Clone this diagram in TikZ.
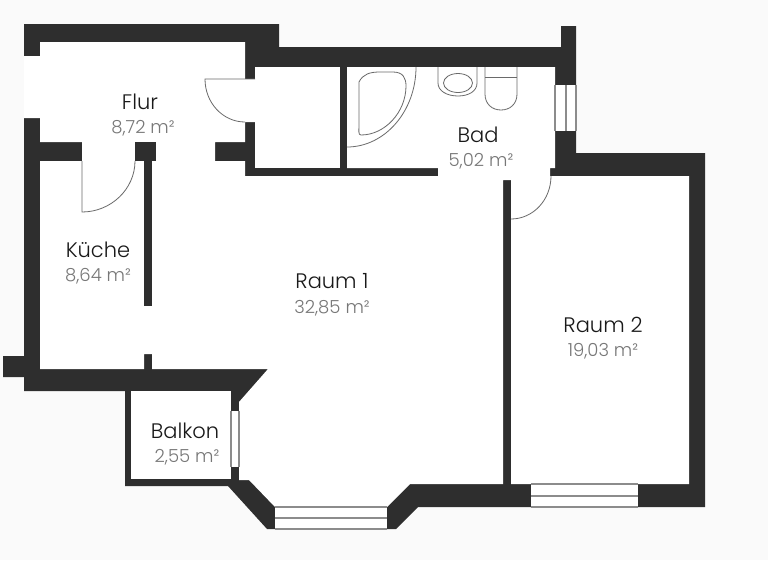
\documentclass[tikz,border=0pt]{standalone}
\usepackage{fontspec}
\setmainfont{Poppins Light}
\usepackage{xcolor}
\usetikzlibrary{positioning}
\definecolor{wallgray}{HTML}{2E2E2E}
\definecolor{paper}{HTML}{FAFAFA}
\definecolor{areagray}{HTML}{777777}
\definecolor{linegray}{HTML}{6A6A6A}
\definecolor{wingray}{HTML}{8C8C8C}

\begin{document}
\begin{tikzpicture}[
  x=1pt, y=-1pt,
  wall/.style={fill=wallgray, draw=none},
  floor/.style={fill=white, draw=none},
  fixture/.style={draw=linegray, line width=0.8pt},
  pane/.style={draw=wingray, line width=1.1pt},
  room/.style={font=\fontsize{21}{24}\selectfont, text=black!90},
  area/.style={font=\fontsize{18}{20}\selectfont, text=areagray}
]
\useasboundingbox (0,0) rectangle (768,560);
\fill[paper] (0,0) rectangle (768,560);

% outer shell
\path[wall] (24,24) -- (279,24) -- (279,47) -- (561,47) -- (561,26) -- (576,26)
  -- (576,153) -- (705,153) -- (705,507) -- (418,507) -- (396,529) -- (267,529)
  -- (228,486) -- (125,486) -- (125,391) -- (24,391) -- (24,377) -- (3,377)
  -- (3,356) -- (24,356) -- cycle;

% open floor
\path[floor] (24,56) -- (40,56) -- (40,42) -- (245,42) -- (245,79) -- (255,79)
  -- (255,122) -- (245,122) -- (245,142) -- (215,142) -- (215,161) -- (245,161)
  -- (245,176) -- (438,176) -- (438,168) -- (347,168) -- (347,67) -- (555,67)
  -- (555,168) -- (550,168) -- (550,176) -- (689,176) -- (689,484) -- (511,484)
  -- (511,180) -- (503,180) -- (503,484) -- (410,484) -- (387,507) -- (275,507)
  -- (249,480) -- (239,480) -- (239,402) -- (268,369) -- (152,369) -- (152,354)
  -- (144,354) -- (144,369) -- (40,369) -- (40,161) -- (82,161) -- (82,142)
  -- (40,142) -- (40,118) -- (24,118) -- cycle;
\path[floor] (255,67) rectangle (340,168);
\path[floor] (131,391) rectangle (231,479);

% kitchen wall
\path[wall] (135,142) rectangle (156,161);
\path[wall] (144,161) rectangle (152,306);

% windows
\path[floor] (275,507) rectangle (387,529);
\draw[pane] (275,507) -- (387,507) (275,518) -- (387,518) (275,529) -- (387,529);
\path[floor] (531,484) rectangle (638,507);
\draw[pane] (531,484) -- (638,484) (531,496) -- (638,496) (531,507) -- (638,507);
\path[floor] (555,85) rectangle (576,131);
\draw[pane] (555,85) -- (555,131) (566,85) -- (566,131) (576,85) -- (576,131);
\path[floor] (231,411) rectangle (239,467);
\draw[pane] (231,411) -- (231,467) (239,411) -- (239,467);

% doors
\draw[fixture] (255,79) -- (205,79) .. controls (205,103) and (223,122) .. (245,122);
\draw[fixture] (82,161) -- (82,212) .. controls (111,212) and (135,189) .. (135,161);
\draw[fixture] (551,176) .. controls (551,200) and (533,219) .. (511,219);

% bath
\draw[fixture] (416,67) .. controls (416,111) and (385,147) .. (347,147);
\draw[fixture] (359,82) .. controls (363,74) and (370,72) .. (380,72)
  -- (393,72) .. controls (403,72) and (406,78) .. (406,86)
  .. controls (406,112) and (385,135) .. (361,135)
  .. controls (358,135) and (359,130) .. (359,125) -- cycle;
\draw[fixture] (438,67) -- (438,83) .. controls (438,91) and (447,96) .. (458,96)
  .. controls (469,96) and (477,91) .. (477,83) -- (477,67);
\draw[fixture] (458,83) ellipse [x radius=14.5, y radius=9.5];
\draw[fixture] (485,67) -- (485,94) .. controls (485,104) and (492,110) .. (501,110)
  .. controls (510,110) and (517,104) .. (517,94) -- (517,67);
\draw[fixture] (485,77) -- (517,77);

% labels
\node[room] (flur) at (140,102) {Flur};
\node[area] (flurarea) at (143,128) {8,72 m²};
\node[room] (kueche) at (98,250) {Küche};
\node[area] (kuechearea) at (98,276) {8,64 m²};
\node[room] (raumeins) at (332,281) {Raum 1};
\node[area] (raumeinsarea) at (332,308) {32,85 m²};
\node[room] (raumzwei) at (603,325) {Raum 2};
\node[area] (raumzweiarea) at (603,351) {19,03 m²};
\node[room] (bad) at (478,135) {Bad};
\node[area] (badarea) at (481,161) {5,02 m²};
\node[room] (balkon) at (185,431) {Balkon};
\node[area] (balkonarea) at (187,457) {2,55 m²};

\end{tikzpicture}
\end{document}
